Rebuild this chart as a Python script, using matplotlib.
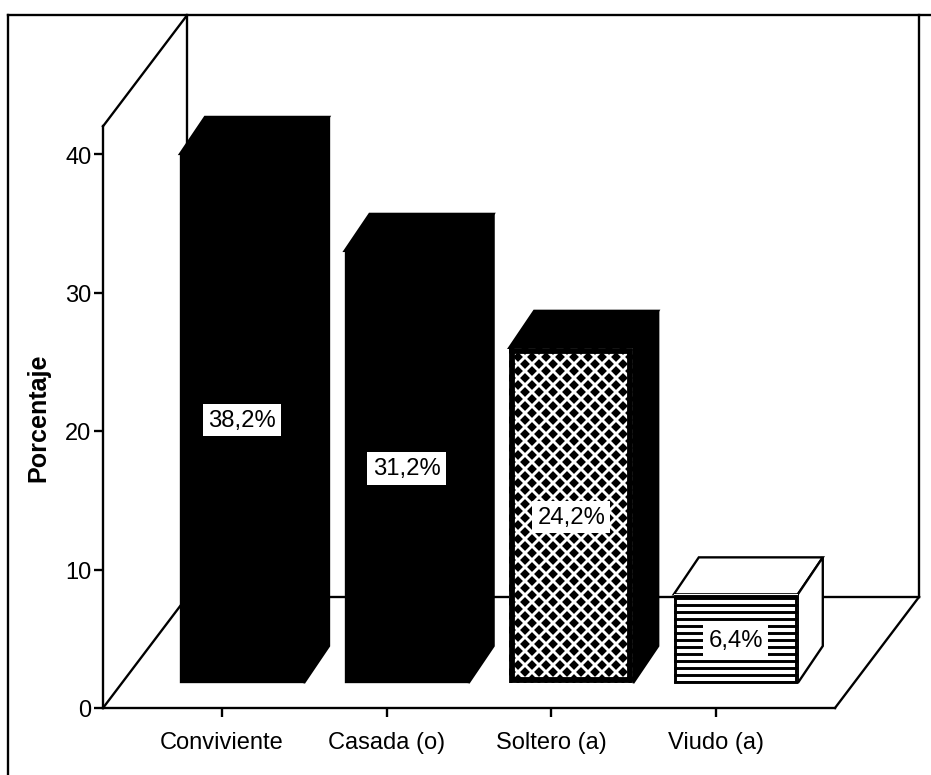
import matplotlib
matplotlib.use("Agg")
import matplotlib.pyplot as plt
from matplotlib.patches import Polygon

plt.rcParams['font.family'] = ['Liberation Sans', 'DejaVu Sans']
plt.rcParams['hatch.linewidth'] = 2.5

# Data
categories = ["Conviviente", "Casada (o)", "Soltero (a)", "Viudo (a)"]
values = [38.2, 31.2, 24.2, 6.4]
labels = ["38,2%", "31,2%", "24,2%", "6,4%"]
y_ticks = [0, 10, 20, 30, 40]

# Scale of the drawing: pixels per unit on each axis
DPI = 84
PX_X = 164.6
PX_Y = 13.85
X0 = 222
Y0 = 709

fig = plt.figure(figsize=(931 / DPI, 776 / DPI), dpi=DPI)
ax = fig.add_axes([0, 0, 1, 1])
ax.set_xlim(-X0 / PX_X, (931 - X0) / PX_X)
ax.set_ylim((Y0 - 776) / PX_Y, Y0 / PX_Y)
ax.patch.set_alpha(0)

# Pseudo 3D depth of the floor and of the bars
left = (103 - X0) / PX_X
right = (835 - X0) / PX_X
floor_dx = 84 / PX_X
floor_dy = 111 / PX_Y
wall_top = 42.0 + floor_dy
bar_dx = 25 / PX_X
bar_dy = 37 / PX_Y
base = 25 / PX_Y
shift = 20 / PX_X
width = 124 / PX_X
lw = 2.0

# Walls and floor
ax.plot([left, left + floor_dx], [42, wall_top], color='k', lw=lw, zorder=1)
ax.plot([left + floor_dx, left + floor_dx], [floor_dy, wall_top], color='k', lw=lw, zorder=1)
ax.plot([left, left + floor_dx], [0, floor_dy], color='k', lw=lw, zorder=1)
ax.plot([left + floor_dx, right + floor_dx], [floor_dy, floor_dy], color='k', lw=lw, zorder=1)
ax.plot([right, right + floor_dx], [0, floor_dy], color='k', lw=lw, zorder=1)
ax.plot([right + floor_dx, right + floor_dx], [floor_dy, wall_top], color='k', lw=lw, zorder=1)

# Outer frame
frame_x = (8 - X0) / PX_X
ax.plot([frame_x, frame_x], [ax.get_ylim()[0], wall_top], color='k', lw=lw, zorder=1)
ax.plot([frame_x, ax.get_xlim()[1]], [wall_top, wall_top], color='k', lw=lw, zorder=1)

# Bars
faces = ['black', 'black', 'black', 'white']
hatch_colors = ['black', 'black', 'white', 'black']
hatches = [None, None, 'xx', '--']
outline = [2.0, 2.0, 5.0, 2.5]

for i, v in enumerate(values):
    xc = i + shift
    xl = xc - width / 2
    xr = xc + width / 2
    top = base + v
    ax.add_patch(Polygon([(xl, top), (xl + bar_dx, top + bar_dy), (xr + bar_dx, top + bar_dy), (xr, top)],
                         facecolor=faces[i], edgecolor='k', lw=lw, zorder=3))
    ax.add_patch(Polygon([(xr, base), (xr + bar_dx, base + bar_dy), (xr + bar_dx, top + bar_dy), (xr, top)],
                         facecolor=faces[i], edgecolor='k', lw=lw, zorder=3))
    ax.bar(xc, v, width, bottom=base, color=faces[i], edgecolor=hatch_colors[i],
           hatch=hatches[i], lw=0, zorder=4)
    # outline kept inside the bar so the thick one does not widen it
    inset = outline[i] * (DPI / 72) / 2 / PX_X
    inset_y = outline[i] * (DPI / 72) / 2 / PX_Y
    ax.bar(xc, v - 2 * inset_y, width - 2 * inset, bottom=base + inset_y, fill=False,
           edgecolor='k', lw=outline[i], zorder=5)
    ax.text(xc, base + v / 2 - 1.5 / PX_Y, labels[i], ha='center', va='center', fontsize=20.5,
            color='k', zorder=6, bbox=dict(facecolor='white', edgecolor='none', pad=4.5))

# Axes
for s in ['top', 'right']:
    ax.spines[s].set_visible(False)
ax.spines['left'].set_position(('data', left))
ax.spines['left'].set_bounds(0, 42)
ax.spines['bottom'].set_position(('data', 0))
ax.spines['bottom'].set_bounds(left, right)
ax.spines['left'].set_linewidth(lw)
ax.spines['bottom'].set_linewidth(lw)
ax.set_yticks(y_ticks)
ax.set_xticks(range(len(categories)))
ax.set_xticklabels(categories)
ax.tick_params(axis='both', labelsize=20.3, width=lw, length=8)
ax.tick_params(axis='x', pad=12)
ax.tick_params(axis='y', pad=2)
ax.text((38 - X0) / PX_X, (Y0 - 418) / PX_Y, "Porcentaje", rotation=90, ha='center', va='center',
        fontsize=21.5, fontweight='bold')

fig.savefig("out.png", dpi=DPI)
